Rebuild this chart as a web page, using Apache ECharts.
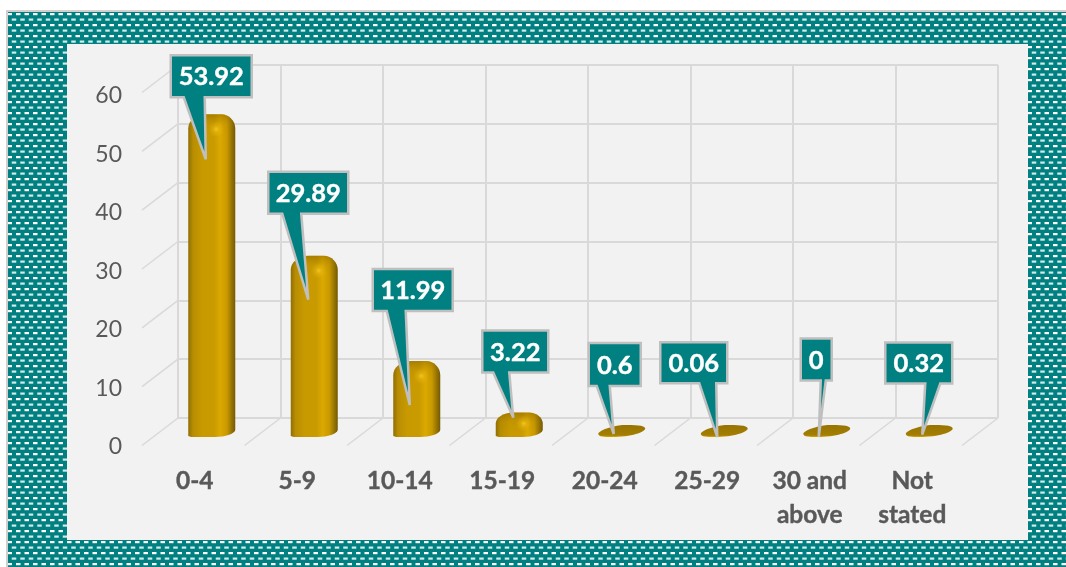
<!DOCTYPE html>
<html><head><meta charset="utf-8">
<style>html,body{margin:0;padding:0;background:#fff}#c{width:1066px;height:567px}</style>
<script src="https://cdn.jsdelivr.net/npm/echarts@6/dist/echarts.min.js"></script>
</head><body><div id="c"></div>
<script>
const categories = ['0-4','5-9','10-14','15-19','20-24','25-29','30 and\nabove','Not\nstated'];
const values = [53.92,29.89,11.99,3.22,0.6,0.06,0,0.32];
const valueTicks = [0,10,20,30,40,50,60];
// callout layout relative to each value's anchor: [boxDx, boxDy, boxW, boxH, baseDx0, baseDx1, tipDx, tipDy]
const calloutLayout = [
  [-41,-59,81,42,-28,-7,-6,45],
  [-46,-84,80,42,-32,-13,-6,44],
  [-44,-92,80,42,-30,-11,-7,44],
  [-37,-82,66,42,-26,-10,-6,5],
  [-33,-85,52,43,-25,-12,-8,6],
  [-64,-89,67,41,-25,-8,-7,6],
  [-26,-93,31,42,-6,-1,-8,5.5],
  [-44,-87,67,41,-4,11,-7,5]
];
const FONT = 'Lato, Carlito, "Open Sans", sans-serif';
const TEAL = '#008080', GRID = '#d9d9d9', TEXT = '#595959';

function tile(){
  const c = document.createElement('canvas'); c.width = 17; c.height = 11;
  const g = c.getContext('2d');
  g.fillStyle = TEAL; g.fillRect(0,0,17,11);
  g.fillStyle = '#ffffff';
  [[-1,4.5],[7.5,4.5],[16,4.5]].forEach(r => g.fillRect(r[0],2,r[1],2.2));
  g.fillStyle = '#d4eaea';
  [[3.25,4.5],[11.75,4.5]].forEach(r => g.fillRect(r[0],7.5,r[1],2.2));
  return c;
}

const chart = echarts.init(document.getElementById('c'), null, {renderer:'canvas'});

function wallLines(params, api){
  const p = api.coord([0, api.value(0)]);
  const bw = api.size([1,0])[0];
  const x = p[0]-bw/2, y = p[1];
  return {type:'line', shape:{x1:x,y1:y,x2:x-36,y2:y+27.5},
    style:{stroke:GRID,lineWidth:1.5}, z2:1};
}
function floorLines(params, api){
  const i = api.value(0);
  const bw = api.size([1,0])[0];
  const p = api.coord([0,0]);
  const x = p[0]-bw/2+bw*i, y = p[1];
  return {type:'line', shape:{x1:x,y1:y,x2:x-36,y2:y+27.5},
    style:{stroke:GRID,lineWidth:1.5}, z2:1};
}
function renderBar(params, api){
  const i = api.value(0), v = api.value(1);
  const top = api.coord([i,v]), base = api.coord([i,0]);
  const c = top[0], L = c-23.5, R = c+23.5, B = base[1]+5.5;
  const T = top[1], h = B-T;
  const children = [];
  if (h < 14){
    const t = base[1]-6.5;
    const d = `M${L} ${B-3.5}C${L+1} ${t+6} ${L+9} ${t+2} ${L+24} ${t}C${R-10} ${t} ${R-1} ${t} ${R} ${t+3.5}`+
      `C${R} ${t+7} ${R-14} ${B} ${L+14} ${B}C${L+6} ${B} ${L} ${B} ${L} ${B-3.5}Z`;
    children.push({type:'path', shape:{pathData:d},
      style:{fill:new echarts.graphic.LinearGradient(0,0,0,1,[
        {offset:0,color:'#977402'},{offset:.85,color:'#a47e02'},{offset:1,color:'#d8a800'}])}});
    return {type:'group', children};
  }
  const rl = Math.min(14,h*.45), k = Math.min(1,h/24);
  const d = `M${L} ${B-1}L${L} ${T+rl}C${L} ${T+rl*.5} ${L+7} ${T} ${L+18} ${T}L${R-14} ${T}`+
    `C${R-6} ${T} ${R} ${T+rl*.5} ${R} ${T+rl}L${R} ${B-7*k}C${R-1} ${B-3} ${R-10} ${B} ${R-20} ${B}L${L+3} ${B}Z`;
  children.push({type:'path', shape:{pathData:d},
    style:{fill:new echarts.graphic.LinearGradient(0,0,1,0,[
      {offset:0,color:'#8f6f04'},{offset:.1,color:'#b88d02'},{offset:.3,color:'#c89a00'},
      {offset:.55,color:'#c99b00'},{offset:.68,color:'#dca900'},{offset:.82,color:'#c99a00'},
      {offset:.94,color:'#8f6f04'},{offset:1,color:'#735800'}])}});
  children.push({type:'path', shape:{pathData:d},
    style:{fill:new echarts.graphic.LinearGradient(0,T,0,T+Math.min(20,h),[
      {offset:0,color:'rgba(110,80,0,0.38)'},{offset:.5,color:'rgba(150,110,0,0.1)'},{offset:1,color:'rgba(150,110,0,0)'}],true)}});
  children.push({type:'ellipse', shape:{cx:c+4.5,cy:T+Math.min(15,h*.45),rx:15,ry:8},
    style:{fill:new echarts.graphic.RadialGradient(.5,.5,.5,[
      {offset:0,color:'rgba(250,205,30,0.85)'},{offset:.45,color:'rgba(240,190,20,0.4)'},{offset:1,color:'rgba(240,190,20,0)'}])}});
  return {type:'group', children};
}
function renderCallout(params, api){
  const i = api.value(0), v = api.value(1);
  const a = api.coord([i,v]);
  const o = calloutLayout[i];
  const x0 = a[0]+o[0], y0 = a[1]+o[1], x1 = x0+o[2], y1 = y0+o[3];
  const pts = [[x0,y0],[x1,y0],[x1,y1],[a[0]+o[5],y1],[a[0]+o[6],a[1]+o[7]],[a[0]+o[4],y1],[x0,y1]];
  return {type:'group', children:[
    {type:'polygon', shape:{points:pts},
      style:{fill:TEAL,stroke:'#bfbfbf',lineWidth:2.5,lineJoin:'miter',miterLimit:3}},
    {type:'text', style:{x:(x0+x1)/2,y:(y0+y1)/2+1,text:String(v),align:'center',verticalAlign:'middle',
      fill:'#fff',stroke:'#fff',lineWidth:0.4,font:'bold 25.5px '+FONT}}
  ]};
}

const plainAxisX = idx => ({type:'category',gridIndex:idx,data:categories,axisLine:{show:false},axisTick:{show:false},axisLabel:{show:false},splitLine:{show:false}});
const plainAxisY = idx => ({type:'value',gridIndex:idx,min:0,max:60,interval:10,axisLine:{show:false},axisTick:{show:false},axisLabel:{show:false},splitLine:{show:false}});

chart.setOption({
  animation:false,
  backgroundColor:'#ffffff',
  graphic:{elements:[
    {type:'rect',z:-30,silent:true,shape:{x:6,y:10,width:1060,height:557},style:{fill:'#d0d0d0'}},
    {type:'rect',z:-29,silent:true,shape:{x:8,y:12,width:1058,height:555},style:{fill:{image:tile(),repeat:'repeat'}}},
    {type:'rect',z:-28,silent:true,shape:{x:67,y:44,width:961,height:496},style:{fill:'#f2f2f2'}}
  ]},
  grid:[
    {left:178,right:68,top:65,bottom:149},
    {left:160.5,right:85.5,top:78.5,bottom:135.5},
    {left:143.5,right:102.5,top:96,bottom:120}
  ],
  xAxis:[
    Object.assign(plainAxisX(0),{splitLine:{show:true,lineStyle:{color:GRID,width:2}}}),
    plainAxisX(1),
    Object.assign(plainAxisX(2),{axisLabel:{show:true,interval:0,margin:17,color:TEXT,fontFamily:FONT,fontWeight:'bold',fontSize:24.5,lineHeight:34,align:'center',verticalAlign:'top',textBorderColor:TEXT,textBorderWidth:0.4}})
  ],
  yAxis:[
    Object.assign(plainAxisY(0),{splitLine:{show:true,lineStyle:{color:GRID,width:2}}}),
    plainAxisY(1),
    Object.assign(plainAxisY(2),{axisLabel:{show:true,margin:21.5,color:TEXT,fontFamily:FONT,fontSize:23}})
  ],
  series:[
    {type:'custom',xAxisIndex:0,yAxisIndex:0,z:2,silent:true,renderItem:wallLines,data:valueTicks.map(t=>[t]),encode:{y:0}},
    {type:'custom',xAxisIndex:0,yAxisIndex:0,z:2,silent:true,renderItem:floorLines,data:categories.map((_,i)=>[i+1]),encode:{x:0}},
    {type:'custom',xAxisIndex:1,yAxisIndex:1,z:3,silent:true,renderItem:renderBar,data:values.map((v,i)=>[i,v]),encode:{x:0,y:1}},
    {type:'custom',xAxisIndex:1,yAxisIndex:1,z:4,silent:true,renderItem:renderCallout,data:values.map((v,i)=>[i,v]),encode:{x:0,y:1}}
  ]
});
</script></body></html>
